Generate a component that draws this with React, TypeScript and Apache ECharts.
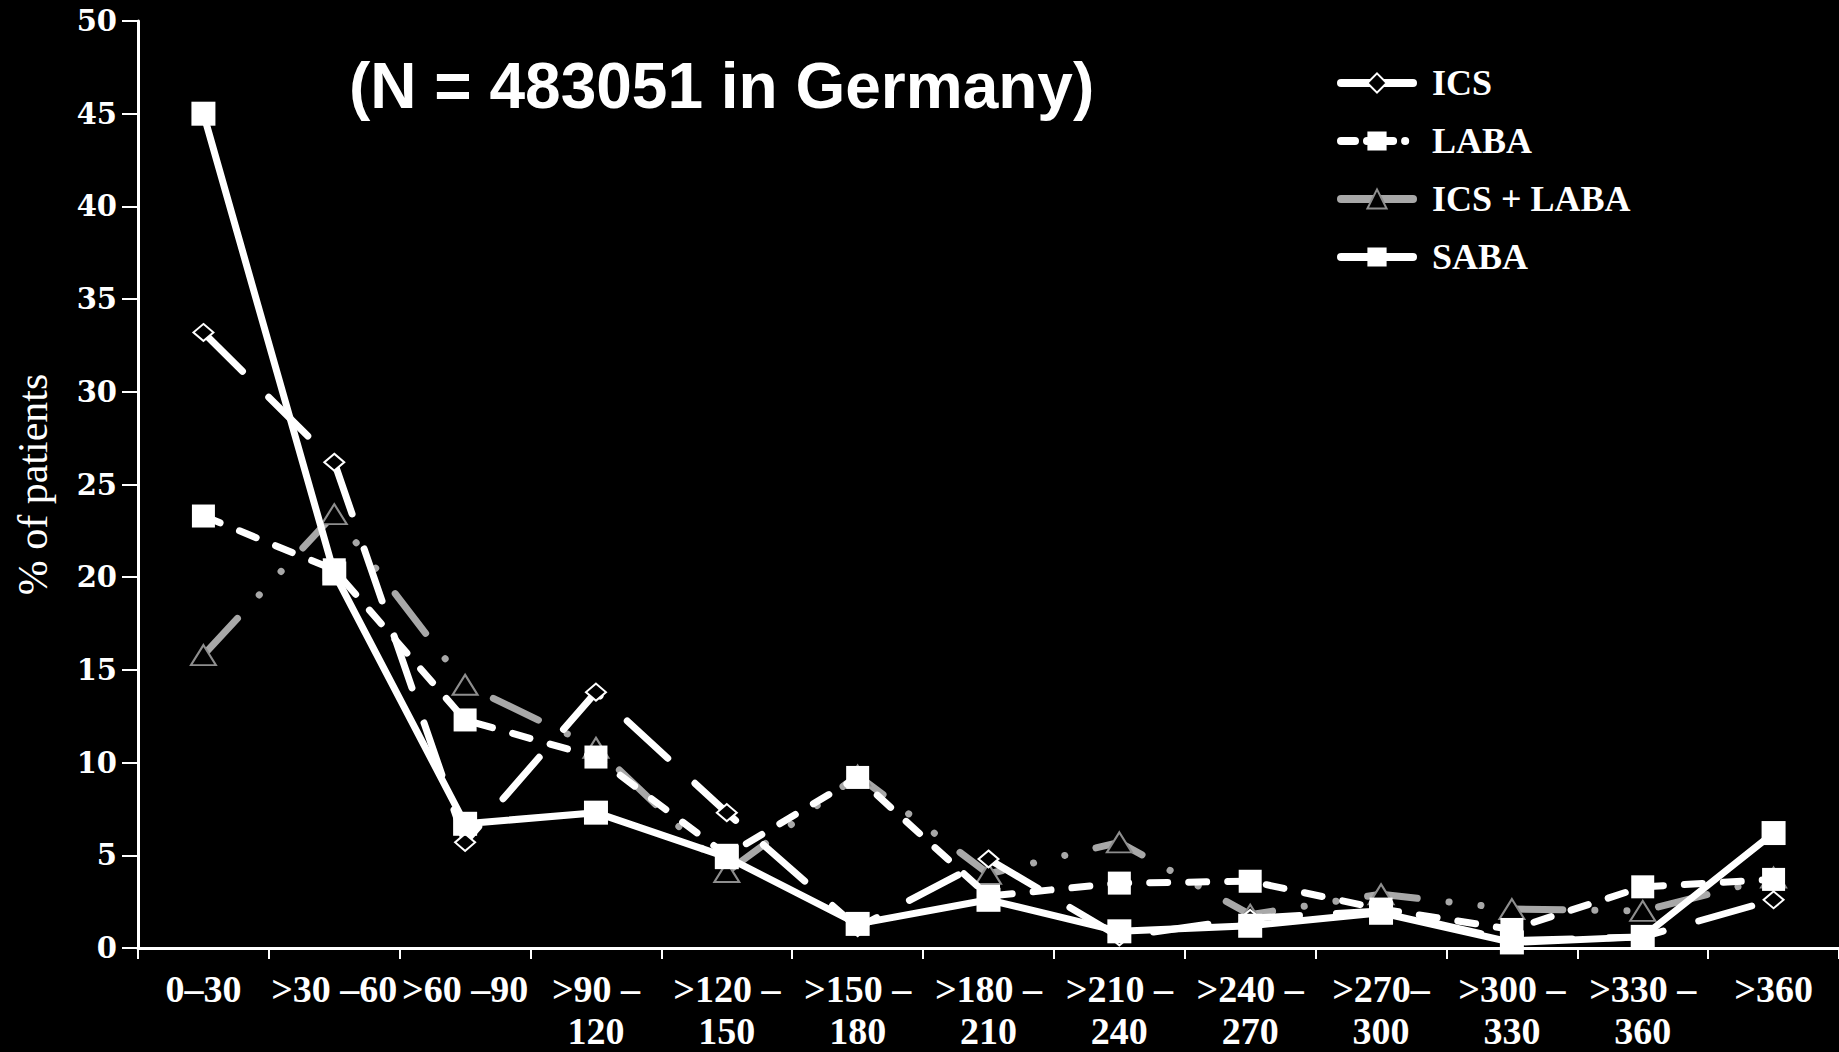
import React, { useEffect, useRef } from "react";
import * as echarts from "echarts";

const categories = ["0–30", ">30 –60", ">60 –90", ">90 –\n120", ">120 –\n150", ">150 –\n180", ">180 –\n210", ">210 –\n240", ">240 –\n270", ">270–\n300", ">300 –\n330", ">330 –\n360", ">360"];
const seriesNames = ["ICS", "LABA", "ICS + LABA", "SABA"];
const icsValues = [33.2, 26.2, 5.7, 13.8, 7.3, 1.1, 4.8, 0.6, 1.6, 2.0, 0.4, 0.6, 2.6];
const labaValues = [23.3, 20.4, 12.3, 10.3, 5.0, 9.2, 2.8, 3.5, 3.6, 2.1, 1.0, 3.3, 3.7];
const icsLabaValues = [15.8, 23.4, 14.2, 10.8, 4.1, 9.3, 4.0, 5.7, 1.8, 2.9, 2.1, 2.0, 3.8];
const sabaValues = [45.0, 20.2, 6.7, 7.3, 4.9, 1.3, 2.6, 0.9, 1.2, 1.9, 0.3, 0.6, 6.2];
const titleText = "(N = 483051 in Germany)";
const yAxisName = "% of patients";

export default function App() {
  const ref = useRef<HTMLDivElement>(null);
  useEffect(() => {
    document.body.style.margin = "0";
    document.body.style.background = "#000";
    const chart = echarts.init(ref.current!, null, { renderer: "svg" });
    const serif = "Liberation Serif";
    const styles: Record<string, any> = {
      "ICS + LABA": { color: "#a8a8a8", width: 7, type: [50, 32, 0.1, 32, 0.1, 32], cap: "round" },
      ICS: { color: "#fff", width: 7, type: [55, 37], cap: "round" },
      LABA: { color: "#fff", width: 7, type: [18, 21], cap: "round" },
      SABA: { color: "#fff", width: 7, type: "solid", cap: "round" },
    };
    const legendDash: Record<string, any> = {
      "ICS + LABA": "solid",
      ICS: "solid",
      LABA: [14, 12, 0.1, 12],
      SABA: "solid",
    };
    chart.setOption({
      animation: false,
      backgroundColor: "#000",
      title: {
        text: titleText,
        left: 349,
        top: 54,
        padding: 0,
        textStyle: { color: "#fff", fontFamily: "Liberation Sans", fontWeight: "bold", fontSize: 64 },
      },
      legend: {
        orient: "vertical",
        left: 1337,
        top: 65,
        itemWidth: 72,
        itemHeight: 24,
        itemGap: 22,
        padding: 0,
        data: seriesNames.map((n) => ({
          name: n,
          lineStyle: { width: 8, color: styles[n].color, type: legendDash[n], cap: "round" },
        })),
        textStyle: { color: "#fff", fontFamily: serif, fontWeight: "bold", fontSize: 36, padding: [0, 0, 0, 14] },
      },
      grid: { left: 138, top: 21, width: 1707, height: 930, containLabel: false },
      xAxis: {
        type: "category",
        data: categories,
        boundaryGap: true,
        axisLine: { lineStyle: { color: "#fff", width: 3 } },
        axisTick: { show: true, length: 11, lineStyle: { color: "#fff", width: 2 } },
        axisLabel: {
          interval: 0,
          color: "#fff",
          fontFamily: serif,
          fontWeight: "bold",
          fontSize: 38,
          lineHeight: 42,
          margin: 20,
        },
        splitLine: { show: false },
      },
      yAxis: {
        type: "value",
        min: 0,
        max: 50,
        interval: 5,
        name: yAxisName,
        nameLocation: "middle",
        nameGap: 105,
        nameRotate: 90,
        nameTextStyle: { color: "#fff", fontFamily: serif, fontSize: 42, verticalAlign: "middle" },
        axisLine: { show: true, lineStyle: { color: "#fff", width: 3 } },
        axisTick: { show: true, length: 16, lineStyle: { color: "#fff", width: 2 } },
        axisLabel: { color: "#fff", fontFamily: "DejaVu Serif", fontWeight: "bold", fontSize: 29, margin: 21 },
        splitLine: { show: false },
      },
      series: [
        {
          name: "ICS + LABA",
          type: "line",
          data: icsLabaValues,
          symbol: "triangle",
          symbolSize: [25, 20],
          z: 2,
          lineStyle: styles["ICS + LABA"],
          itemStyle: { color: "#000", borderColor: "#8e8e8e", borderWidth: 2 },
        },
        {
          name: "ICS",
          type: "line",
          data: icsValues,
          symbol: "diamond",
          symbolSize: [20, 17],
          z: 3,
          lineStyle: styles.ICS,
          itemStyle: { color: "#000", borderColor: "#fff", borderWidth: 2 },
        },
        {
          name: "LABA",
          type: "line",
          data: labaValues,
          symbol: "rect",
          symbolSize: 23,
          z: 4,
          lineStyle: styles.LABA,
          itemStyle: { color: "#fff" },
        },
        {
          name: "SABA",
          type: "line",
          data: sabaValues,
          symbol: "rect",
          symbolSize: 24,
          z: 5,
          lineStyle: styles.SABA,
          itemStyle: { color: "#fff" },
        },
      ],
    });
    return () => chart.dispose();
  }, []);
  return <div ref={ref} style={{ position: "fixed", left: 0, top: 0, width: 1839, height: 1052, background: "#000" }} />;
}
